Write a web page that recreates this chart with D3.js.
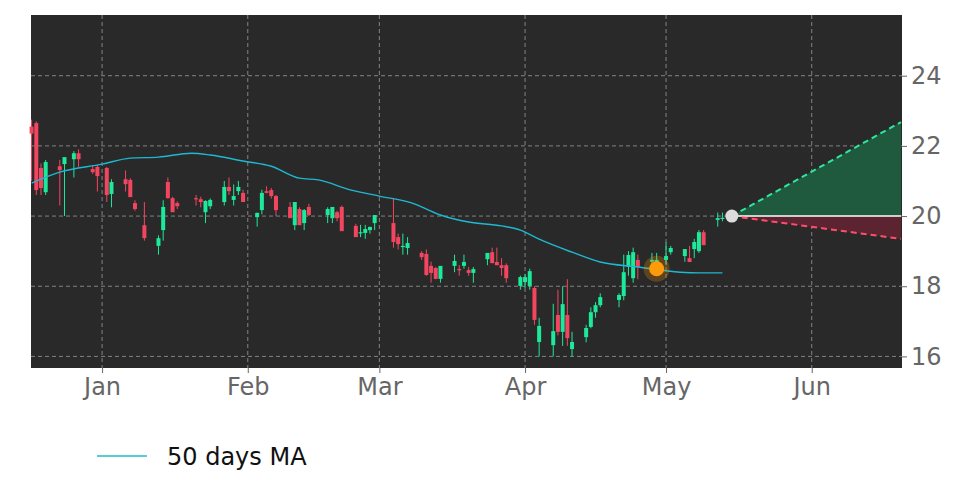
<!DOCTYPE html>
<html><head><meta charset="utf-8">
<script src="https://cdn.jsdelivr.net/npm/d3@7"></script>
<style>body{margin:0;background:#fff;font-family:"DejaVu Sans",sans-serif}</style>
</head><body><svg id="c" width="972" height="486"></svg>
<script>
const dates=["2024-12-17","2024-12-18","2024-12-19","2024-12-20","2024-12-23","2024-12-24","2024-12-26","2024-12-27","2024-12-30","2024-12-31","2025-01-02","2025-01-03","2025-01-06","2025-01-07","2025-01-08","2025-01-10","2025-01-13","2025-01-14","2025-01-15","2025-01-16","2025-01-17","2025-01-21","2025-01-22","2025-01-23","2025-01-24","2025-01-27","2025-01-28","2025-01-29","2025-01-30","2025-01-31","2025-02-03","2025-02-04","2025-02-05","2025-02-06","2025-02-07","2025-02-10","2025-02-11","2025-02-12","2025-02-13","2025-02-14","2025-02-18","2025-02-19","2025-02-20","2025-02-21","2025-02-24","2025-02-25","2025-02-26","2025-02-27","2025-02-28","2025-03-04","2025-03-05","2025-03-06","2025-03-07","2025-03-10","2025-03-11","2025-03-12","2025-03-13","2025-03-14","2025-03-17","2025-03-18","2025-03-19","2025-03-20","2025-03-21","2025-03-24","2025-03-25","2025-03-26","2025-03-27","2025-03-28","2025-03-31","2025-04-01","2025-04-02","2025-04-03","2025-04-04","2025-04-07","2025-04-08","2025-04-09","2025-04-10","2025-04-11","2025-04-14","2025-04-15","2025-04-16","2025-04-17","2025-04-21","2025-04-22","2025-04-23","2025-04-24","2025-04-25","2025-04-28","2025-04-29","2025-05-01","2025-05-02","2025-05-05","2025-05-06","2025-05-07","2025-05-08","2025-05-09","2025-05-12","2025-05-13"];
const opens=[22.55,22.65,21.37,20.68,21.42,21.48,21.62,21.79,21.34,21.40,21.37,20.63,21.05,21.03,20.37,19.74,19.15,19.60,20.97,20.51,20.37,20.51,20.48,20.11,20.28,20.40,20.83,20.46,20.71,20.66,19.97,20.17,20.71,20.74,20.57,20.26,19.74,20.20,19.80,20.26,20.03,19.94,20.11,20.26,19.72,19.52,19.52,19.60,19.80,19.80,19.40,19.12,19.09,18.95,18.92,18.58,18.52,18.21,18.58,18.49,18.58,18.46,18.38,18.77,18.97,18.69,18.60,18.60,18.01,18.12,18.01,17.95,16.41,16.32,17.18,16.70,17.18,16.21,16.55,16.84,17.26,17.46,17.61,17.72,18.55,18.23,18.75,18.70,18.55,18.75,18.97,18.86,18.80,19.06,19.00,19.54,19.89,19.95];
const highs=[22.75,22.70,21.50,21.60,21.60,21.55,21.85,21.90,21.45,21.45,21.40,21.05,21.30,21.08,20.45,20.40,19.45,20.45,21.10,20.55,20.42,20.60,20.55,20.45,20.50,21.00,21.10,20.90,21.00,20.75,20.10,20.75,20.85,20.80,20.60,20.40,20.40,20.25,20.20,20.35,20.25,20.20,20.15,20.30,19.78,19.75,19.75,19.70,20.00,20.50,19.50,19.50,19.40,19.00,19.05,18.70,18.55,18.45,18.90,18.60,18.90,18.55,18.55,18.90,19.10,19.10,18.80,18.65,18.30,18.35,18.50,18.00,17.10,17.50,17.90,18.00,18.20,16.70,16.90,17.40,17.55,17.80,17.80,18.90,19.00,19.10,18.90,18.95,18.95,19.25,19.15,19.05,19.15,19.35,19.60,19.60,20.10,20.10];
const lows=[21.00,20.60,20.60,20.60,20.30,20.00,21.10,21.40,21.20,20.70,20.40,20.25,20.70,20.60,20.15,19.30,18.90,19.30,20.50,20.15,20.20,20.30,20.25,19.80,20.20,20.30,20.60,20.30,20.60,20.50,19.70,20.05,20.65,20.50,20.00,20.00,19.60,19.80,19.60,20.00,19.80,19.80,19.85,19.60,19.60,19.40,19.35,19.50,19.60,19.10,19.05,18.90,18.90,18.75,18.30,18.10,18.20,18.10,18.40,18.30,18.50,18.30,18.10,18.60,18.65,18.60,18.30,18.10,17.90,17.95,17.90,16.90,16.00,16.00,16.60,16.30,16.30,16.00,16.40,16.80,17.10,17.40,17.40,17.60,18.30,18.10,18.20,18.40,18.40,18.60,18.90,18.70,18.70,18.80,18.95,19.40,19.70,19.85];
const closes=[22.35,20.74,20.80,21.54,21.31,21.68,21.79,21.62,21.25,21.14,20.60,20.97,20.91,20.54,20.20,19.37,19.37,20.26,20.51,20.11,20.28,20.48,20.40,20.43,20.46,20.83,20.71,20.57,20.83,20.40,20.09,20.66,20.66,20.57,20.17,19.94,20.40,19.74,20.17,20.03,20.20,20.26,19.94,19.57,19.40,19.54,19.63,19.69,20.03,19.26,19.20,19.15,19.23,18.83,18.32,18.38,18.21,18.58,18.72,18.46,18.69,18.38,18.49,18.95,18.66,18.60,18.52,18.23,18.26,18.26,18.43,17.04,16.87,16.72,16.70,17.49,16.52,16.41,16.81,17.26,17.46,17.69,17.75,18.40,18.89,18.97,18.55,18.75,18.75,18.86,19.09,19.06,18.69,19.26,19.54,19.17,19.94,19.95];
const maDates=["2024-12-17","2024-12-23","2025-01-01","2025-01-07","2025-01-13","2025-01-20","2025-01-24","2025-01-31","2025-02-06","2025-02-12","2025-02-16","2025-02-23","2025-03-01","2025-03-08","2025-03-14","2025-03-20","2025-03-27","2025-03-31","2025-04-04","2025-04-11","2025-04-17","2025-04-25","2025-05-04","2025-05-08","2025-05-13"];
const maValues=[20.94,21.25,21.48,21.65,21.68,21.79,21.74,21.57,21.42,21.08,21.03,20.74,20.57,20.37,20.03,19.83,19.72,19.60,19.34,18.97,18.69,18.55,18.40,18.38,18.38];
const forecastStart={date:"2025-05-15",value:20.0};
const forecastEnd={date:"2025-06-20",upper:22.68,lower:19.35};
const marker={date:"2025-04-29",value:18.5};
const yTicks=[16,18,20,22,24];

const svg=d3.select("#c");
const L=31,R=902,T=15,B=368;
const p=d3.timeParse("%Y-%m-%d");
const x=d3.scaleTime().domain([new Date(2024,11,16,21),new Date(2025,5,20,5)]).range([L,R]);
const y=d3.scaleLinear().domain([15.67,25.73]).range([B,T]);
svg.append("rect").attr("x",L).attr("y",T).attr("width",R-L).attr("height",B-T).attr("fill","#292929");
const g=svg.append("g");
const xt=d3.timeMonth.range(new Date(2025,0,1),new Date(2025,5,2));
g.selectAll(".vx").data(xt).join("line").attr("x1",d=>x(d)).attr("x2",d=>x(d)).attr("y1",T).attr("y2",B).attr("stroke","#9a9a9a").attr("stroke-dasharray","4,3").attr("stroke-width",0.8);
g.selectAll(".hy").data(yTicks).join("line").attr("x1",L).attr("x2",R).attr("y1",d=>y(d)).attr("y2",d=>y(d)).attr("stroke","#9a9a9a").attr("stroke-dasharray","4,3").attr("stroke-width",0.8);
const x0=x(p(forecastStart.date)),x1=x(p(forecastEnd.date)),y0=y(forecastStart.value);
svg.append("path").attr("d",`M${x0},${y0}L${x1},${y(forecastEnd.upper)}L${x1},${y0}Z`).attr("fill","#1f5a3e");
svg.append("path").attr("d",`M${x0},${y0}L${x1},${y(forecastEnd.lower)}L${x1},${y0}Z`).attr("fill","#5c2430");
svg.append("line").attr("x1",x0).attr("x2",x1).attr("y1",y0).attr("y2",y0).attr("stroke","#fff").attr("stroke-width",1.5);
svg.append("line").attr("x1",x0).attr("x2",x1).attr("y1",y0).attr("y2",y(forecastEnd.upper)).attr("stroke","#2ee6a0").attr("stroke-width",2).attr("stroke-dasharray","6,4");
svg.append("line").attr("x1",x0).attr("x2",x1).attr("y1",y0).attr("y2",y(forecastEnd.lower)).attr("stroke","#ff4d6d").attr("stroke-width",2).attr("stroke-dasharray","6,4");
const data=dates.map((d,i)=>({d:p(d),o:opens[i],h:highs[i],l:lows[i],c:closes[i]}));
const col=d=>d.c>=d.o?"#1de99b":"#f2455f";
const cg=svg.append("g");
cg.selectAll("line").data(data).join("line").attr("x1",d=>x(d.d)).attr("x2",d=>x(d.d)).attr("y1",d=>y(d.h)).attr("y2",d=>y(d.l)).attr("stroke",col).attr("stroke-width",1);
cg.selectAll("rect").data(data).join("rect").attr("x",d=>x(d.d)-2).attr("width",4).attr("y",d=>y(Math.max(d.o,d.c))).attr("height",d=>Math.max(1.2,Math.abs(y(d.o)-y(d.c)))).attr("fill",col);
svg.append("path").datum(maDates.map((d,i)=>[x(p(d)),y(maValues[i])])).attr("d",d3.line().curve(d3.curveMonotoneX)).attr("fill","none").attr("stroke","#1fb8d0").attr("stroke-width",1.4);
const mx=x(p(marker.date)),my=y(marker.value);
svg.append("circle").attr("cx",mx).attr("cy",my).attr("r",13).attr("fill","#ff9900").attr("opacity",0.25);
svg.append("circle").attr("cx",mx).attr("cy",my).attr("r",7.5).attr("fill","#ff9b0a");
svg.append("circle").attr("cx",x0).attr("cy",y0).attr("r",6.5).attr("fill","#dcdcdc");
const ya=svg.append("g").attr("transform",`translate(${R},0)`).call(d3.axisRight(y).tickValues(yTicks).tickSize(5).tickPadding(4));
ya.selectAll("text").attr("font-size",24).attr("fill","#666").attr("font-family","DejaVu Sans");
const xa=svg.append("g").attr("transform",`translate(0,${B})`).call(d3.axisBottom(x).tickValues(xt).tickFormat(d3.timeFormat("%b")).tickSize(5).tickPadding(5));
xa.selectAll("text").attr("font-size",24).attr("fill","#666").attr("font-family","DejaVu Sans");
[ya,xa].forEach(a=>{a.select(".domain").remove();a.selectAll("line").attr("stroke","#666");});
svg.append("line").attr("x1",97).attr("x2",147).attr("y1",456).attr("y2",456).attr("stroke","#1fb8d0").attr("stroke-width",1.4);
svg.append("text").attr("x",167).attr("y",465).attr("font-size",24).attr("fill","#111").text("50 days MA");
</script></body></html>
